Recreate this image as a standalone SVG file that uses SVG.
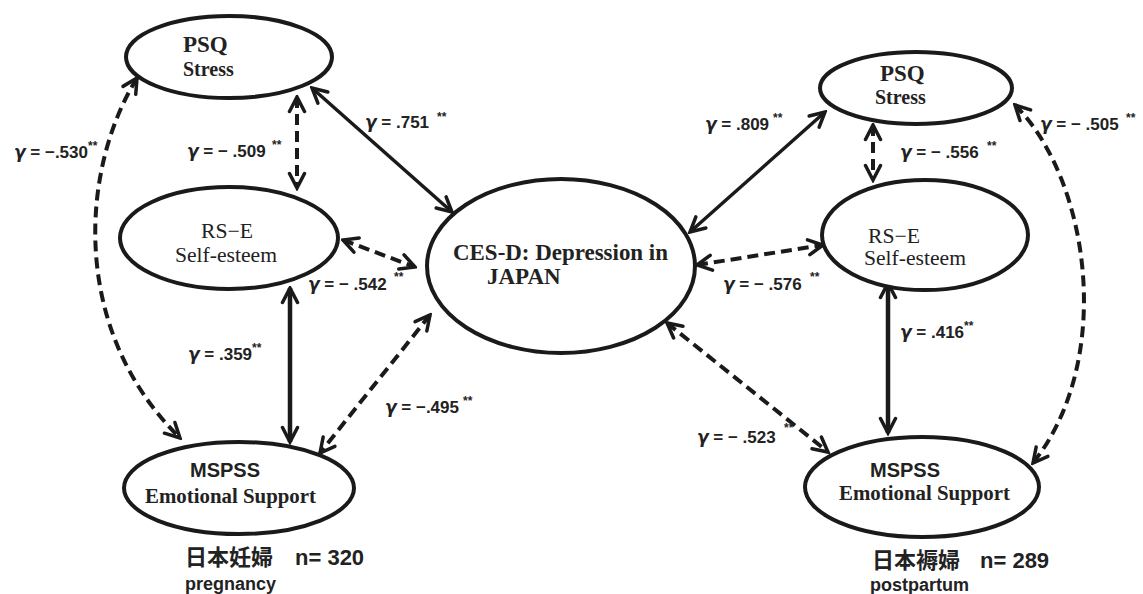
<svg xmlns="http://www.w3.org/2000/svg" width="1143" height="594" viewBox="0 0 1143 594">
<defs>
<marker id="ah" viewBox="0 0 20 20" refX="17.5" refY="10" markerWidth="20" markerHeight="20" markerUnits="userSpaceOnUse" orient="auto-start-reverse">
<path d="M3,2.5 L17.5,10 L3,17.5" fill="none" stroke="#1a1a1a" stroke-width="3.5" stroke-dasharray="none" stroke-linecap="round" stroke-linejoin="miter"/>
</marker>
</defs>
<style>
.node{fill:#fff;stroke:#1a1a1a;stroke-width:4}
.ser{font-family:"Liberation Serif","Times New Roman",serif;fill:#222}
.b{font-weight:bold}
.sans{font-family:"Liberation Sans",Arial,sans-serif;fill:#222}
.lab{font-family:"Liberation Sans",Arial,sans-serif;font-weight:bold;font-size:17px;fill:#222}
.g{font-family:"DejaVu Sans",sans-serif;font-style:italic;font-size:17px}
.st{font-size:12px}
.conn{fill:none;stroke:#1a1a1a;stroke-width:3.5;marker-start:url(#ah);marker-end:url(#ah)}
.thick{stroke-width:4.5}
.dash{stroke-width:4;stroke-dasharray:11 6}
.cap{font-family:"Liberation Sans","Noto Sans CJK JP",sans-serif;font-weight:bold;fill:#222}
</style>
<rect width="1143" height="594" fill="#fff"/>

<g id="connectors">
<line class="conn" x1="312" y1="88" x2="452" y2="212"/>
<line class="conn dash" x1="297" y1="97" x2="297" y2="188"/>
<line class="conn dash" x1="343" y1="240" x2="415" y2="267"/>
<line class="conn thick" x1="290" y1="288" x2="290" y2="442"/>
<line class="conn dash" x1="430" y1="315" x2="320" y2="453"/>
<path class="conn dash" d="M137,78 C80,170 70,330 180,438"/>
<line class="conn" x1="690" y1="232" x2="825" y2="112"/>
<line class="conn dash" x1="873" y1="125" x2="873" y2="180"/>
<line class="conn dash" x1="697" y1="265" x2="823" y2="245"/>
<line class="conn thick" x1="888" y1="283" x2="888" y2="433"/>
<line class="conn dash" x1="667" y1="323" x2="828" y2="452"/>
<path class="conn dash" d="M1015,105 C1090,180 1115,360 1033,463"/>
</g>

<g id="labels">
<text class="lab" x="365" y="128"><tspan class="g">γ</tspan> = .751<tspan class="st" x="437" y="121">**</tspan></text>
<text class="lab" x="187" y="157"><tspan class="g">γ</tspan> = − .509<tspan class="st" x="272" y="149">**</tspan></text>
<text class="lab" x="308" y="290"><tspan class="g">γ</tspan> = − .542<tspan class="st" x="394" y="281">**</tspan></text>
<text class="lab" x="188" y="360"><tspan class="g">γ</tspan> = .359<tspan class="st" dy="-8">**</tspan></text>
<text class="lab" x="385" y="413"><tspan class="g">γ</tspan> = −.495<tspan class="st" x="463" y="405">**</tspan></text>
<text class="lab" x="14" y="158"><tspan class="g">γ</tspan> = −.530<tspan class="st" dy="-8">**</tspan></text>
<text class="lab" x="705" y="130"><tspan class="g">γ</tspan> = .809<tspan class="st" x="773" y="122">**</tspan></text>
<text class="lab" x="900" y="158"><tspan class="g">γ</tspan> = − .556<tspan class="st" x="987" y="150">**</tspan></text>
<text class="lab" x="723" y="290"><tspan class="g">γ</tspan> = − .576<tspan class="st" x="810" y="281">**</tspan></text>
<text class="lab" x="900" y="338"><tspan class="g">γ</tspan> = .416<tspan class="st" dy="-8">**</tspan></text>
<text class="lab" x="697" y="443"><tspan class="g">γ</tspan> = − .523<tspan class="st" x="784" y="432">**</tspan></text>
<text class="lab" x="1040" y="130"><tspan class="g">γ</tspan> = − .505<tspan class="st" x="1126" y="122">**</tspan></text>
</g>

<g id="psq-left">
<ellipse class="node" cx="229" cy="57" rx="103" ry="41"/>
<text class="ser b" x="183" y="52" font-size="23">PSQ</text>
<text class="ser b" x="183" y="76" font-size="20">Stress</text>
</g>
<g id="rse-left">
<ellipse class="node" cx="229" cy="238" rx="109" ry="51"/>
<text class="ser" x="201" y="238" font-size="21" textLength="52" lengthAdjust="spacingAndGlyphs">RS−E</text>
<text class="ser" x="175" y="262" font-size="20" textLength="102" lengthAdjust="spacingAndGlyphs">Self-esteem</text>
</g>
<g id="mspss-left">
<ellipse class="node" cx="239" cy="488" rx="115" ry="46"/>
<text class="sans b" x="190" y="477" font-size="20">MSPSS</text>
<text class="ser b" x="145" y="503" font-size="20" textLength="171" lengthAdjust="spacingAndGlyphs">Emotional Support</text>
</g>
<g id="cesd">
<ellipse class="node" cx="561" cy="266" rx="134" ry="87"/>
<text class="ser b" x="453" y="260" font-size="23" textLength="215" lengthAdjust="spacingAndGlyphs">CES-D: Depression in</text>
<text class="ser b" x="487" y="284" font-size="23">JAPAN</text>
</g>
<g id="psq-right">
<ellipse class="node" cx="916" cy="88" rx="96" ry="36"/>
<text class="ser b" x="880" y="81" font-size="23">PSQ</text>
<text class="ser b" x="875" y="104" font-size="20">Stress</text>
</g>
<g id="rse-right">
<ellipse class="node" cx="925" cy="235" rx="103" ry="55"/>
<text class="ser" x="868" y="243" font-size="21" textLength="52" lengthAdjust="spacingAndGlyphs">RS−E</text>
<text class="ser" x="864" y="265" font-size="20" textLength="102" lengthAdjust="spacingAndGlyphs">Self-esteem</text>
</g>
<g id="mspss-right">
<ellipse class="node" cx="922" cy="487" rx="117" ry="50"/>
<text class="sans b" x="870" y="477" font-size="20">MSPSS</text>
<text class="ser b" x="839" y="500" font-size="20" textLength="171" lengthAdjust="spacingAndGlyphs">Emotional Support</text>
</g>

<g id="captions">
<text class="cap" x="185" y="565" font-size="22">日本妊婦<tspan x="295">n= 320</tspan></text>
<text class="cap" x="185" y="590" font-size="18">pregnancy</text>
<text class="cap" x="872" y="568" font-size="22">日本褥婦<tspan x="980">n= 289</tspan></text>
<text class="cap" x="870" y="591" font-size="18">postpartum</text>
</g>
</svg>
